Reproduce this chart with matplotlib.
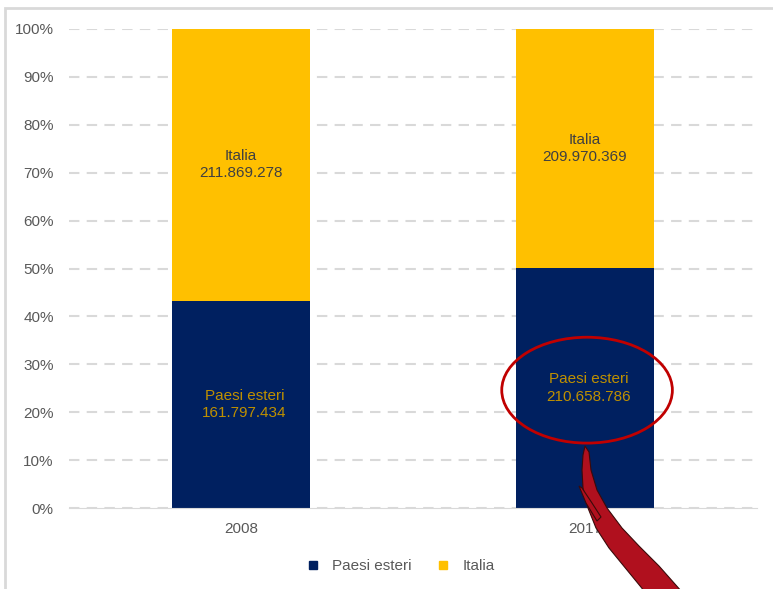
import matplotlib.pyplot as plt
from matplotlib.patches import Ellipse, Polygon, Rectangle
from matplotlib.lines import Line2D
from matplotlib.ticker import PercentFormatter

# dati
anni = ["2008", "2017"]
paesi_esteri = [161797434, 210658786]
italia = [211869278, 209970369]

NAVY = "#002060"
GOLD = "#FFC000"
GREY = "#595959"
FONT = ["Liberation Sans Narrow", "Liberation Sans", "DejaVu Sans"]
FS = 11

plt.rcParams["font.family"] = FONT
plt.rcParams["font.size"] = FS


def fmt_it(n):
    return f"{n:,}".replace(",", ".")


tot = [a + b for a, b in zip(paesi_esteri, italia)]
quota_est = [a / t for a, t in zip(paesi_esteri, tot)]
quota_ita = [b / t for b, t in zip(italia, tot)]

fig = plt.figure(figsize=(7.73, 5.89), dpi=100)
ax = fig.add_axes([69 / 773, 1 - 508 / 589, 688 / 773, 479 / 589])

x = range(len(anni))
ax.bar(x, quota_est, width=0.4, color=NAVY, zorder=3)
ax.bar(x, quota_ita, width=0.4, bottom=quota_est, color=GOLD, zorder=3)

# etichette dentro le barre
for i in x:
    ax.text(i + 0.01, quota_est[i] / 2, "Paesi esteri\n" + fmt_it(paesi_esteri[i]),
            ha="center", va="center", color="#BF9000", fontsize=FS, zorder=4,
            linespacing=1.3)
    ax.text(i, quota_est[i] + quota_ita[i] / 2, "Italia\n" + fmt_it(italia[i]),
            ha="center", va="center", color="#404040", fontsize=FS, zorder=4,
            linespacing=1.3)

ax.set_xlim(-0.5, 1.5)
ax.set_ylim(0, 1)
ax.set_xticks(list(x))
ax.set_xticklabels(anni)
ax.set_yticks([i / 10 for i in range(11)])
ax.yaxis.set_major_formatter(PercentFormatter(1.0, decimals=0))
ax.tick_params(length=0, colors=GREY, labelsize=FS)
ax.tick_params(axis="x", pad=10)
ax.tick_params(axis="y", pad=11)

ax.yaxis.grid(True, color="#D9D9D9", linestyle=(0, (5, 3.5)), linewidth=1.5, zorder=0)
for s in ["top", "right", "left"]:
    ax.spines[s].set_visible(False)
ax.spines["bottom"].set_color("#D9D9D9")
ax.spines["bottom"].set_zorder(5)

# legenda
handles = [Line2D([], [], marker="s", ls="", color=NAVY, markersize=6),
           Line2D([], [], marker="s", ls="", color=GOLD, markersize=6)]
fig.legend(handles, ["Paesi esteri", "Italia"], loc="center",
           bbox_to_anchor=(396 / 773, 1 - 566 / 589), ncol=2, frameon=False,
           labelcolor=GREY, fontsize=FS, handletextpad=0.3, columnspacing=1.0)

# cornice
fig.patches.append(Rectangle((5 / 773, -0.1), 1.2, 1 - 8 / 589 + 0.1, transform=fig.transFigure,
                             fill=False, edgecolor="#D9D9D9", linewidth=2))

# evidenziazione
ell = Ellipse((1.006, 0.246), 0.496, 0.221, fill=False, edgecolor="#C00000",
              linewidth=2, zorder=6, clip_on=False)
ax.add_patch(ell)


def px(pts):
    return [(a / 773, 1 - b / 589) for a, b in pts]


freccia = [(585, 446), (589, 452), (591, 470), (597, 490), (607, 508), (622, 528),
           (639, 546), (659, 566), (682, 592), (645, 592), (627, 570), (609, 548),
           (596, 528), (588, 508), (583, 488), (582, 470), (583, 455)]
fig.patches.append(Polygon(px(freccia), closed=True, transform=fig.transFigure,
                           facecolor="#B0101E", edgecolor="#3A0A0A", linewidth=0.8))
filo = [(579, 486), (582, 488), (592, 503), (601, 517), (597, 521), (586, 503)]
fig.patches.append(Polygon(px(filo), closed=True, transform=fig.transFigure,
                           facecolor="#B0101E", edgecolor="#3A0A0A", linewidth=0.8))

fig.savefig("out.png", dpi=100)
